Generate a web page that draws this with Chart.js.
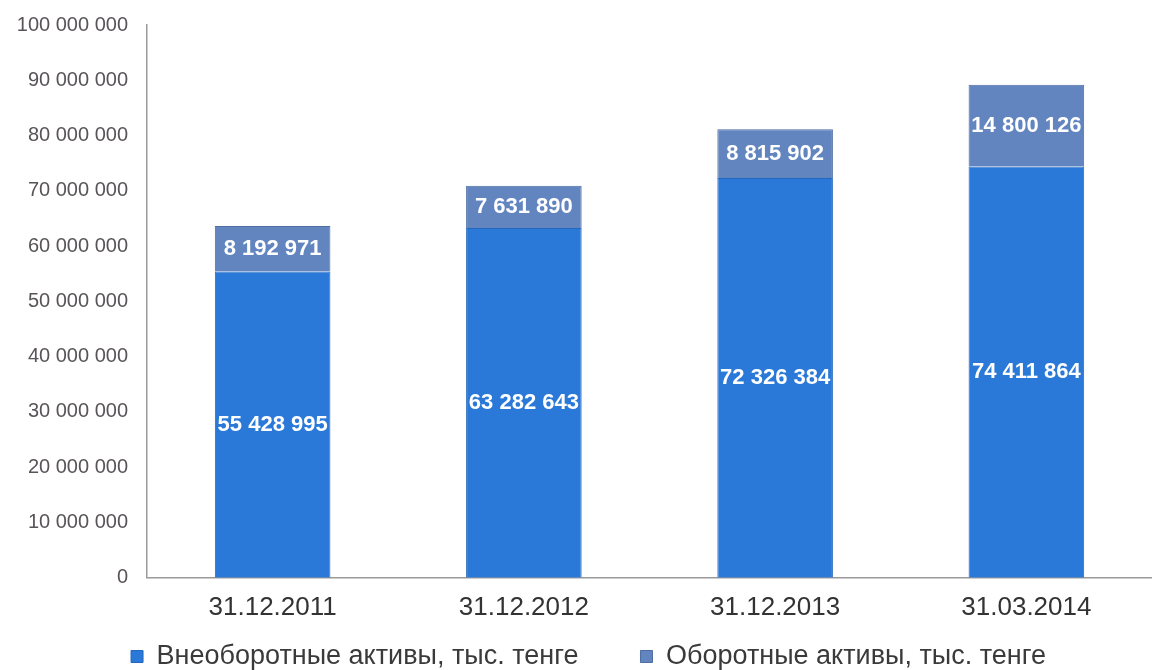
<!DOCTYPE html>
<html>
<head>
<meta charset="utf-8">
<script src="https://cdn.jsdelivr.net/npm/chart.js@4/dist/chart.umd.min.js"></script>
<style>
  html, body { margin: 0; padding: 0; background: #fff; }
  #assetsChart { display: block; }
</style>
</head>
<body>
<canvas id="assetsChart" width="1152" height="670"></canvas>
<script>
const dates = ['31.12.2011', '31.12.2012', '31.12.2013', '31.03.2014'];
const nonCurrentAssets = [55428995, 63282643, 72326384, 74411864];
const currentAssets = [8192971, 7631890, 8815902, 14800126];
const seriesNames = ['Внеоборотные активы, тыс. тенге', 'Оборотные активы, тыс. тенге'];

const FONT = '"Liberation Sans", Arial, sans-serif';

// 55428995 -> "55 428 995"
function spaced(n) {
    return String(Math.round(n)).replace(/\B(?=(\d{3})+(?!\d))/g, ' ');
}

// white value labels in the middle of each segment
const segmentLabels = {
    id: 'segmentLabels',
    afterDatasetsDraw(chart) {
        const ctx = chart.ctx;
        ctx.save();
        ctx.font = 'bold 22px ' + FONT;
        ctx.fillStyle = '#ffffff';
        ctx.textAlign = 'center';
        ctx.textBaseline = 'middle';
        chart.data.datasets.forEach(function (ds, i) {
            chart.getDatasetMeta(i).data.forEach(function (bar, j) {
                ctx.fillText(spaced(ds.data[j]), bar.x, (bar.y + bar.base) / 2);
            });
        });
        ctx.restore();
    }
};

// legend is fitted with a small padding, then the gap between items is widened
// and the block moved so it lines up under the bars
const legendSpacing = {
    id: 'legendSpacing',
    afterLayout(chart) {
        const lg = chart.legend;
        const small = lg.options.labels.padding;
        const wide = 62;
        lg.options.labels.padding = wide;
        lg.top += 10 - (wide - small) - 14;
        lg.left -= 90;
    }
};

const ctx = document.getElementById('assetsChart').getContext('2d');
const chart = new Chart(ctx, {
    type: 'bar',
    data: {
        labels: dates,
        datasets: [{
            label: seriesNames[0],
            data: nonCurrentAssets,
            backgroundColor: '#2a79d8',
            borderColor: '#2468bd',
            borderWidth: 1,
            categoryPercentage: 1,
            barPercentage: 0.46
        }, {
            label: seriesNames[1],
            data: currentAssets,
            backgroundColor: '#6285c0',
            borderColor: '#4d6da3',
            borderWidth: 1,
            categoryPercentage: 1,
            barPercentage: 0.46
        }]
    },
    options: {
        responsive: false,
        animation: false,
        layout: { padding: { left: 0, right: -11, top: 0, bottom: -14 } },
        scales: {
            x: {
                stacked: true,
                grid: { display: false, drawTicks: false },
                border: { color: '#9a9a9a', width: 1.5 },
                ticks: {
                    color: '#333',
                    padding: 14,
                    font: { family: FONT, size: 26 }
                }
            },
            y: {
                stacked: true,
                min: 0,
                max: 100000000,
                grid: { display: false, drawTicks: false },
                border: { color: '#9a9a9a', width: 1.5 },
                afterFit(scale) {
                    scale.width = 147;
                    // tick padding would otherwise push the top of the plot down
                    scale.paddingTop = 25;
                },
                ticks: {
                    stepSize: 10000000,
                    color: '#585458',
                    padding: 19,
                    font: { family: FONT, size: 20 },
                    callback: function (v) { return spaced(v); }
                }
            }
        },
        plugins: {
            tooltip: { enabled: false },
            legend: {
                position: 'bottom',
                labels: {
                    color: '#3a3a3a',
                    boxWidth: 12,
                    boxHeight: 12,
                    padding: 10,
                    font: { family: FONT, size: 27 }
                }
            }
        }
    },
    plugins: [segmentLabels, legendSpacing]
});
</script>
</body>
</html>
